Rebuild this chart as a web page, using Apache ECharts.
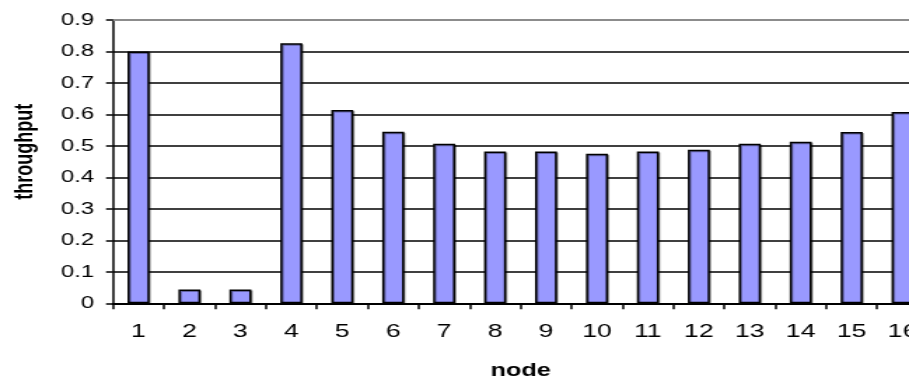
<!DOCTYPE html>
<html>
<head>
<meta charset="utf-8">
<script src="https://cdn.jsdelivr.net/npm/echarts@6/dist/echarts.min.js"></script>
<style>
  html, body { margin: 0; padding: 0; background: #fff; overflow: hidden; width: 909px; height: 381px; }
  #chart { width: 649px; height: 381px; transform: scaleX(1.4006); transform-origin: 0 0; }
</style>
</head>
<body>
<div id="chart"></div>
<script>
const nodes = ['1','2','3','4','5','6','7','8','9','10','11','12','13','14','15','16'];
const throughput = [0.800, 0.044, 0.044, 0.826, 0.614, 0.545, 0.507, 0.482, 0.482, 0.475, 0.482, 0.488, 0.507, 0.513, 0.544, 0.608];
const yMin = 0, yMax = 0.9, yStep = 0.1;
const xTitle = 'node';
const yTitle = 'throughput';

const chart = echarts.init(document.getElementById('chart'), null, { renderer: 'canvas' });
chart.setOption({
  animation: false,
  backgroundColor: '#ffffff',
  grid: { left: 80.7, width: 581.9, top: 20, bottom: 77.7, containLabel: false, outerBoundsMode: 'none' },
  xAxis: {
    type: 'category',
    data: nodes,
    boundaryGap: true,
    name: xTitle,
    nameLocation: 'middle',
    nameGap: 59,
    nameTextStyle: { fontFamily: 'Liberation Sans', fontWeight: 'bold', fontSize: 18, color: '#000' },
    axisLine: { show: true, lineStyle: { color: '#000', width: 2 } },
    axisTick: { show: true, alignWithLabel: false, length: 6, lineStyle: { color: '#000', width: 1.5 } },
    axisLabel: { margin: 19, fontFamily: 'Liberation Sans', fontSize: 19, color: '#000', interval: 0, hideOverlap: false },
    splitLine: { show: false }
  },
  yAxis: {
    type: 'value',
    min: yMin, max: yMax, interval: yStep,
    name: yTitle,
    nameLocation: 'middle',
    nameGap: 54,
    nameRotate: 90,
    nameTextStyle: { fontFamily: 'Liberation Sans', fontWeight: 'bold', fontSize: 18, color: '#000', padding: [0, 0, 0, 20] },
    axisLine: { show: true, lineStyle: { color: '#000', width: 1.5 } },
    axisTick: { show: true, length: 5, lineStyle: { color: '#000', width: 1.5 } },
    axisLabel: {
      margin: 13.6, fontFamily: 'Liberation Sans', fontSize: 17, color: '#000',
      formatter: v => (Math.abs(v) < 1e-9 ? '0' : v.toFixed(1))
    },
    splitLine: { show: true, lineStyle: { color: '#000', width: 1.5 } }
  },
  series: [{
    type: 'bar',
    data: throughput,
    barWidth: 15.7,
    itemStyle: {
      color: '#9999ff', borderColor: '#000', borderWidth: 1.5,
      shadowColor: 'rgba(0,0,0,0.35)', shadowOffsetX: 1, shadowOffsetY: 1, shadowBlur: 0
    },
    markLine: {
      silent: true, symbol: 'none', label: { show: false },
      lineStyle: { color: '#8c8c8c', width: 2, type: 'solid' },
      data: [{ yAxis: yMax }]
    }
  }]
});
</script>
</body>
</html>
